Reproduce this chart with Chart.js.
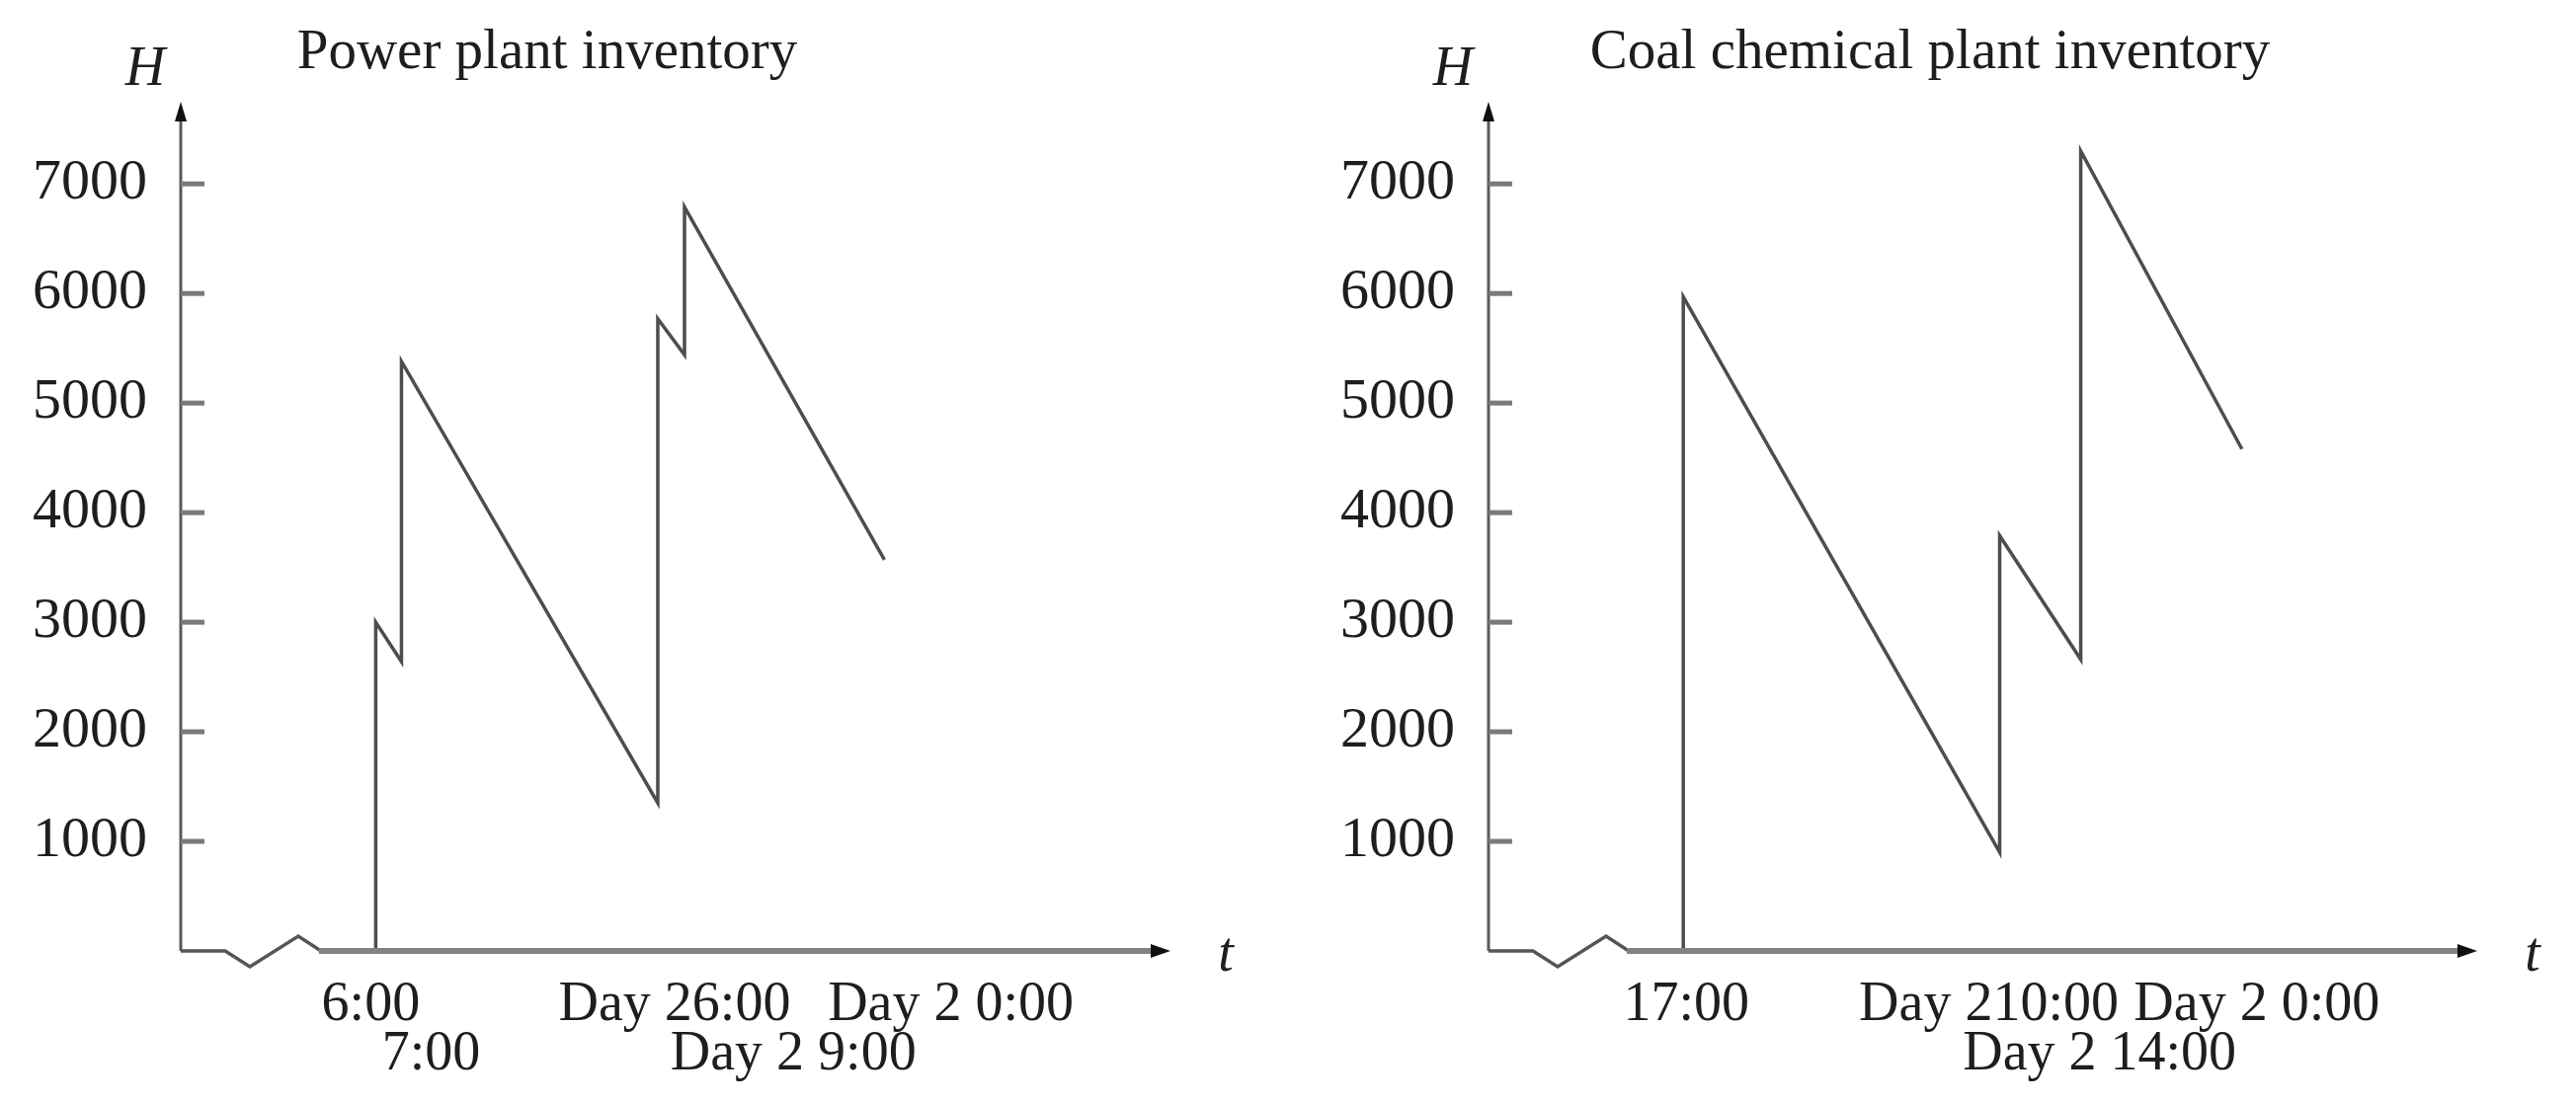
<!DOCTYPE html>
<html>
<head>
<meta charset="utf-8">
<script src="https://cdn.jsdelivr.net/npm/chart.js@4.4.0/dist/chart.umd.min.js"></script>
<style>
  html, body { margin: 0; padding: 0; background: #fff; }
  #wrap { position: relative; width: 2608px; height: 1118px; }
  .box { position: absolute; top: 0; width: 1304px; height: 1118px; }
  #left { left: 0; }
  #right { left: 1304px; }
</style>
</head>
<body>
<div id="wrap">
  <div class="box" id="left"><canvas id="powerChart"></canvas></div>
  <div class="box" id="right"><canvas id="coalChart"></canvas></div>
</div>
<script>
// x is schematic time along the axis: 0 = H axis, 100 = arrow tip
var yTicks = [1000, 2000, 3000, 4000, 5000, 6000, 7000];

var powerX = [19.7, 19.7, 22.3, 22.3, 48.2, 48.2, 50.9, 50.9, 71.1];
var powerH = [0, 3000, 2640, 5380, 1350, 5770, 5440, 6790, 3570];
var powerTickX = [19.2, 25.3, 49.9, 61.9, 77.8];
var powerTickLabels = ['6:00', '7:00', 'Day 26:00', 'Day 2 9:00', 'Day 2 0:00'];
var powerTickRow = [0, 1, 0, 1, 0];

var coalX = [19.7, 19.7, 51.7, 51.7, 59.9, 59.9, 76.2];
var coalH = [0, 5970, 900, 3790, 2660, 7300, 4580];
var coalTickX = [20.0, 50.6, 61.8, 77.7];
var coalTickLabels = ['17:00', 'Day 210:00', 'Day 2 14:00', 'Day 2 0:00'];
var coalTickRow = [0, 0, 1, 0];

var SERIF = '"Liberation Serif", "DejaVu Serif", serif';
var TEXT = '#1e1e1e';

// axes with arrows, broken t axis, inner tick marks, H / t letters and the title
var axisDecor = {
  id: 'axisDecor',
  afterDraw: function(chart, args, o) {
    var ctx = chart.ctx, a = chart.chartArea, ys = chart.scales.y;
    var L = a.left, B = a.bottom;
    ctx.save();
    ctx.lineCap = 'butt';
    ctx.lineJoin = 'miter';

    // H axis
    ctx.strokeStyle = '#5a5a5a';
    ctx.lineWidth = 3;
    ctx.beginPath();
    ctx.moveTo(L, B);
    ctx.lineTo(L, a.top + 16);
    ctx.stroke();
    ctx.fillStyle = '#111';
    ctx.beginPath();
    ctx.moveTo(L, a.top);
    ctx.lineTo(L - 6, a.top + 20);
    ctx.lineTo(L + 6, a.top + 20);
    ctx.closePath();
    ctx.fill();

    // tick marks inside
    ctx.strokeStyle = '#7a7a7a';
    ctx.lineWidth = 5;
    ys.ticks.forEach(function(t) {
      var py = ys.getPixelForValue(t.value);
      ctx.beginPath();
      ctx.moveTo(L, py);
      ctx.lineTo(L + 24, py);
      ctx.stroke();
    });

    // break zigzag
    ctx.strokeStyle = '#555';
    ctx.lineWidth = 3.5;
    ctx.beginPath();
    ctx.moveTo(L, B);
    ctx.lineTo(L + 45, B);
    ctx.lineTo(L + 70, B + 16);
    ctx.lineTo(L + 119, B - 15);
    ctx.lineTo(L + 142, B);
    ctx.stroke();

    // t axis
    ctx.strokeStyle = '#828282';
    ctx.lineWidth = 6;
    ctx.beginPath();
    ctx.moveTo(L + 140, B);
    ctx.lineTo(a.right - 16, B);
    ctx.stroke();
    ctx.fillStyle = '#111';
    ctx.beginPath();
    ctx.moveTo(a.right, B);
    ctx.lineTo(a.right - 20, B - 7);
    ctx.lineTo(a.right - 20, B + 7);
    ctx.closePath();
    ctx.fill();

    // letters
    ctx.fillStyle = TEXT;
    ctx.font = 'italic 56px ' + SERIF;
    ctx.textAlign = 'center';
    ctx.textBaseline = 'alphabetic';
    ctx.fillText('H', L - 36, 86);
    ctx.fillText('t', a.right + 56, B + 20);

    ctx.font = '57px ' + SERIF;
    ctx.fillText(o.title, o.titleX, 69);
    ctx.restore();
  }
};

function makeChart(id, xs, hs, tickX, tickLabels, tickRow, axisWidth, padRight, title, titleX) {
  var points = xs.map(function(x, i) { return { x: x, y: hs[i] }; });
  var labels = tickLabels.map(function(s, i) { return tickRow[i] === 0 ? [s, ''] : ['', s]; });
  return new Chart(document.getElementById(id), {
    type: 'line',
    data: {
      datasets: [{
        data: points,
        borderColor: '#4d4d4d',
        borderWidth: 3.5,
        pointRadius: 0,
        tension: 0,
        fill: false
      }]
    },
    options: {
      responsive: true,
      maintainAspectRatio: false,
      animation: false,
      layout: { padding: { left: 0, right: padRight, top: 103, bottom: 0 } },
      plugins: {
        legend: { display: false },
        tooltip: { enabled: false },
        title: { display: false },
        axisDecor: { title: title, titleX: titleX }
      },
      scales: {
        x: {
          type: 'linear',
          min: 0,
          max: 100,
          grid: { display: false },
          border: { display: false },
          afterBuildTicks: function(scale) {
            scale.ticks = tickX.map(function(v) { return { value: v }; });
          },
          afterFit: function(scale) { scale.height = 155; },
          ticks: {
            autoSkip: false,
            maxRotation: 0,
            minRotation: 0,
            padding: 22,
            color: TEXT,
            font: { family: SERIF, size: 56, lineHeight: 0.9 },
            callback: function(v, i) { return labels[i]; }
          }
        },
        y: {
          min: 0,
          max: 7750,
          grid: { display: false },
          border: { display: false },
          afterBuildTicks: function(scale) {
            scale.ticks = yTicks.map(function(v) { return { value: v }; });
          },
          afterFit: function(scale) { scale.width = axisWidth; },
          ticks: {
            padding: 26,
            color: TEXT,
            font: { family: SERIF, size: 58 },
            callback: function(v) { return String(v); }
          }
        }
      }
    },
    plugins: [axisDecor]
  });
}

makeChart('powerChart', powerX, powerH, powerTickX, powerTickLabels, powerTickRow,
  183, 119, 'Power plant inventory', 554);
makeChart('coalChart', coalX, coalH, coalTickX, coalTickLabels, coalTickRow,
  203, 100, 'Coal chemical plant inventory', 650);
</script>
</body>
</html>
